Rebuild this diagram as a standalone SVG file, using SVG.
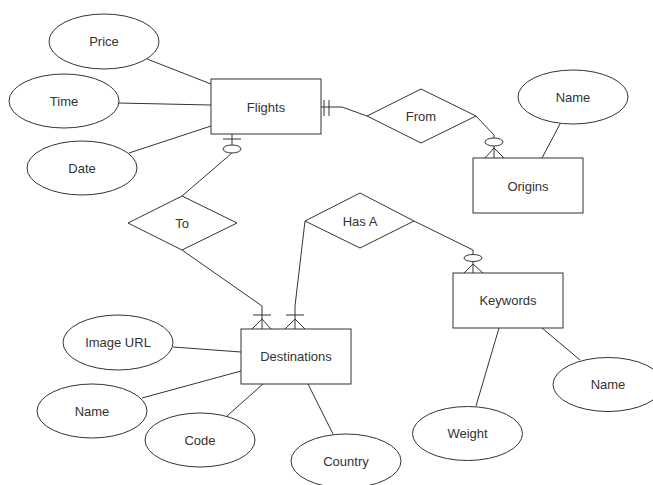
<svg xmlns="http://www.w3.org/2000/svg" width="653" height="485" viewBox="0 0 653 485">
<style>
.s{fill:#fff;stroke:#333;stroke-width:1}
.l{fill:none;stroke:#333;stroke-width:1}
.o{fill:#fff;stroke:#333;stroke-width:1}
text{font-family:"Liberation Sans",Arial,sans-serif;font-size:13px;fill:#333;text-anchor:middle;dominant-baseline:central}
</style>
<rect width="653" height="485" fill="#fff"/>
<g id="connectors">
<line class="l" x1="147" y1="59" x2="211" y2="84"/>
<line class="l" x1="118" y1="103" x2="211" y2="105"/>
<line class="l" x1="129" y1="153" x2="211" y2="126"/>
<polyline class="l" points="321,107 342,107 367,116"/>
<line class="l" x1="324" y1="100" x2="324" y2="116"/>
<line class="l" x1="329" y1="100" x2="329" y2="116"/>
<polyline class="l" points="476,116 494,135 494,138"/>
<ellipse class="o" cx="494" cy="142" rx="9" ry="4"/>
<line class="l" x1="494" y1="146" x2="494" y2="158"/>
<polyline class="l" points="485,158 494,148 504,158"/>
<line class="l" x1="560" y1="124" x2="542" y2="158"/>
<line class="l" x1="232" y1="134" x2="232" y2="145"/>
<line class="l" x1="223" y1="139" x2="241" y2="139"/>
<ellipse class="o" cx="232" cy="149" rx="9" ry="4"/>
<line class="l" x1="232" y1="153" x2="182" y2="196"/>
<polyline class="l" points="182,250 262,306 262,329"/>
<line class="l" x1="253" y1="315" x2="271" y2="315"/>
<polyline class="l" points="252,329 262,319 271,329"/>
<polyline class="l" points="305,221 295,306 295,329"/>
<line class="l" x1="286" y1="315" x2="304" y2="315"/>
<polyline class="l" points="285,329 295,319 305,329"/>
<polyline class="l" points="414,221 473,250 473,254"/>
<ellipse class="o" cx="473" cy="258" rx="9" ry="3.5"/>
<line class="l" x1="473" y1="262" x2="473" y2="273"/>
<polyline class="l" points="464,273 473,264 483,273"/>
<line class="l" x1="499" y1="328" x2="476" y2="406"/>
<line class="l" x1="542" y1="328" x2="580" y2="360"/>
<line class="l" x1="173" y1="347" x2="241" y2="352"/>
<line class="l" x1="142" y1="398" x2="241" y2="371"/>
<line class="l" x1="227" y1="416" x2="263" y2="384"/>
<line class="l" x1="333" y1="434" x2="308" y2="384"/>
</g>
<g id="flights"><rect class="s" x="211" y="79" width="110" height="55"/><text x="266" y="107">Flights</text></g>
<g id="price"><ellipse class="s" cx="104" cy="41.5" rx="55" ry="27.5"/><text x="104" y="41.5">Price</text></g>
<g id="time"><ellipse class="s" cx="64" cy="101" rx="55" ry="27"/><text x="64" y="101">Time</text></g>
<g id="date"><ellipse class="s" cx="82" cy="168" rx="55" ry="27"/><text x="82" y="168">Date</text></g>
<g id="from"><polygon class="s" points="367,116 421,89 476,116 421,143"/><text x="421" y="116">From</text></g>
<g id="origins"><rect class="s" x="473" y="158" width="110" height="55"/><text x="528" y="186">Origins</text></g>
<g id="origins-name"><ellipse class="s" cx="573" cy="97" rx="55" ry="27"/><text x="573" y="97">Name</text></g>
<g id="to"><polygon class="s" points="128,223 182,196 237,223 182,250"/><text x="182" y="223">To</text></g>
<g id="hasa"><polygon class="s" points="305,221 360,193 414,221 360,248"/><text x="360" y="221">Has A</text></g>
<g id="destinations"><rect class="s" x="241" y="329" width="110" height="55"/><text x="296" y="356">Destinations</text></g>
<g id="keywords"><rect class="s" x="453" y="273" width="110" height="55"/><text x="508" y="300">Keywords</text></g>
<g id="imageurl"><ellipse class="s" cx="118" cy="342.5" rx="55" ry="27.5"/><text x="118" y="342.5">Image URL</text></g>
<g id="dest-name"><ellipse class="s" cx="92" cy="411" rx="55" ry="27"/><text x="92" y="411">Name</text></g>
<g id="code"><ellipse class="s" cx="200" cy="440" rx="55" ry="27"/><text x="200" y="440">Code</text></g>
<g id="country"><ellipse class="s" cx="346" cy="461" rx="55" ry="27"/><text x="346" y="461">Country</text></g>
<g id="weight"><ellipse class="s" cx="467.5" cy="433.5" rx="55" ry="27"/><text x="467.5" y="433.5">Weight</text></g>
<g id="kw-name"><ellipse class="s" cx="608" cy="384.5" rx="55" ry="27"/><text x="608" y="384.5">Name</text></g>
</svg>
